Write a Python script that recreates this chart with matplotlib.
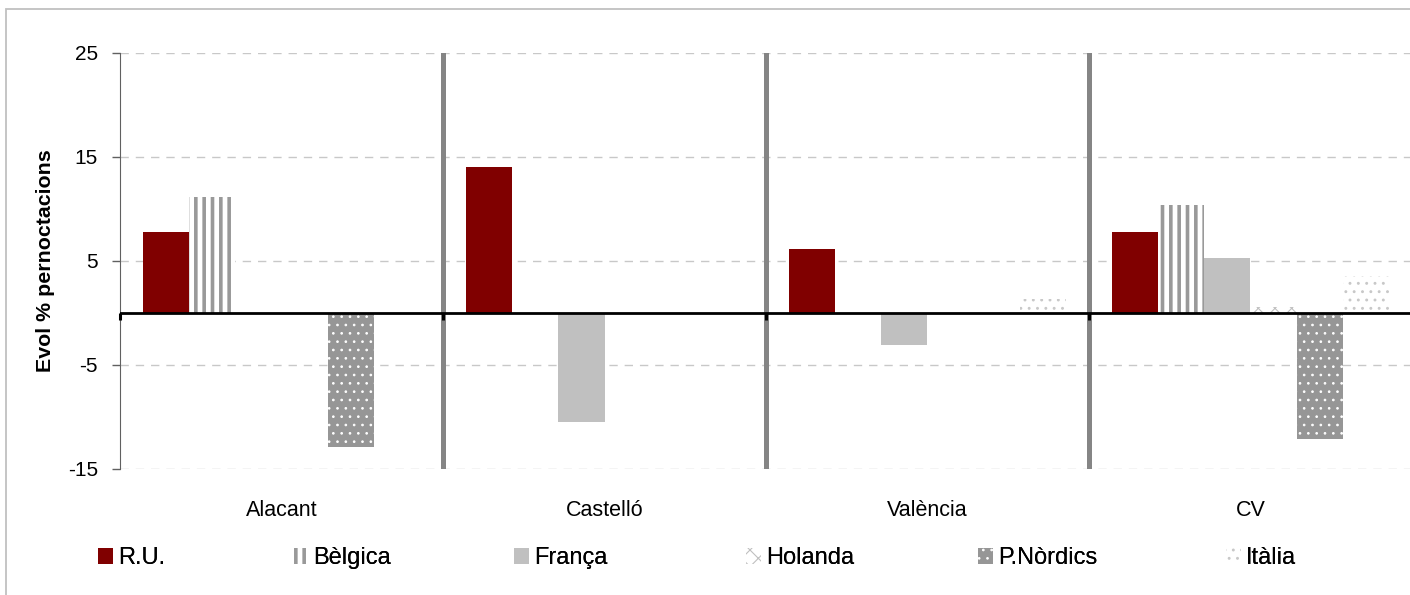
import numpy as np
import matplotlib
matplotlib.use("Agg")
import matplotlib.pyplot as plt
from matplotlib.patches import Patch, Rectangle

plt.rcParams['font.family'] = ['Liberation Sans', 'DejaVu Sans']

# Data
regions = ['Alacant', 'Castelló', 'València', 'CV']
series_names = ['R.U.', 'Bèlgica', 'França', 'Holanda', 'P.Nòrdics', 'Itàlia']
ru = [7.8, 14.0, 6.2, 7.8]
belgica = [11.2, 0, 0, 10.4]
franca = [0, -10.5, -3.1, 5.3]
holanda = [0, 0, 0, 0.6]
nordics = [-12.9, 0, 0, -12.1]
italia = [0, 0, 1.3, 3.6]
y_ticks = [-15, -5, 5, 15, 25]

series = [ru, belgica, franca, holanda, nordics, italia]

# Bar styles: facecolor, hatch colour, hatch, hatch linewidth
styles = [
    ('#800000', '#800000', None, 1.0),
    ('white', '#999999', '||', 2.6),
    ('#c0c0c0', '#c0c0c0', None, 1.0),
    ('white', '#c0c0c0', 'xx', 0.8),
    ('#969696', 'white', '..', 0.7),
    ('white', '#c8c8c8', '..', 0.9),
]


def apply_hatch_lw(patch, lw):
    # newer matplotlib keeps a per-patch hatch linewidth
    if hasattr(patch, 'set_hatch_linewidth'):
        patch.set_hatch_linewidth(lw)
    else:
        patch._hatch_linewidth = lw


W, H = 1410, 595
fig = plt.figure(figsize=(W / 100, H / 100), dpi=100)
ax = fig.add_axes([120 / W, 1 - 469 / H, 1292 / W, 416 / H])

x = np.arange(len(regions))
bw = 1 / 7

for i, vals in enumerate(series):
    fc, hc, hatch, hlw = styles[i]
    bars = ax.bar(x + (i - 2.5) * bw, vals, width=bw, color=fc,
                  edgecolor=hc, hatch=hatch, linewidth=0, zorder=2)
    for b in bars:
        apply_hatch_lw(b, hlw)

# Group separators
for xs in [0.5, 1.5, 2.5]:
    ax.axvline(xs, color='#858585', lw=3.6, zorder=3)

# Zero line with little ticks below
ax.axhline(0, color='black', lw=2, zorder=4)
ax.plot([-0.5, 0.5, 1.5, 2.5, 3.5], [0] * 5, ls='none', marker=3,
        markersize=5, mew=2.2, color='black', zorder=4, clip_on=False)

ax.set_xlim(-0.5, 3.5)
ax.set_ylim(-15, 25)
ax.set_yticks(y_ticks)
ax.set_yticklabels([str(v) for v in y_ticks], fontsize=15)
ax.tick_params(axis='y', length=6, pad=10, color='#606060', width=1)
ax.yaxis.grid(True, color='#c8c8c8', lw=1, dashes=(6, 5), zorder=0)
ax.set_axisbelow(True)

ax.set_xticks(x)
ax.set_xticklabels(regions, fontsize=15.5)
ax.tick_params(axis='x', length=0, pad=22)

for s in ['top', 'right', 'bottom']:
    ax.spines[s].set_visible(False)
ax.spines['left'].set_color('#606060')

fig.text(46 / W, 1 - 261 / H, 'Evol % pernoctacions', rotation=90,
         fontsize=15.4, fontweight='bold', ha='center', va='center')

# Legend, one entry at a time to copy the spacing
legend_x = [98, 293, 514, 746, 978, 1226]
for i, name in enumerate(series_names):
    fc, hc, hatch, hlw = styles[i]
    h = Patch(facecolor=fc, edgecolor=hc, hatch=hatch, linewidth=0)
    apply_hatch_lw(h, hlw)
    leg = fig.legend(handles=[h], labels=[name], loc='center left',
                     bbox_to_anchor=(legend_x[i] / W, 1 - 558 / H),
                     frameon=False, fontsize=17, borderpad=0,
                     borderaxespad=0, handlelength=0.64, handleheight=0.64,
                     handletextpad=0.22)
    for lp in leg.get_patches():
        apply_hatch_lw(lp, hlw)
    fig.add_artist(leg)

# Outer chart border (only top and left visible)
fig.patches.append(Rectangle((6 / W, -0.1), 1.2, 1.1 - 9 / H, transform=fig.transFigure,
                             fill=False, edgecolor='#c0c0c0', lw=1.3))

fig.savefig('out.png', dpi=100)
